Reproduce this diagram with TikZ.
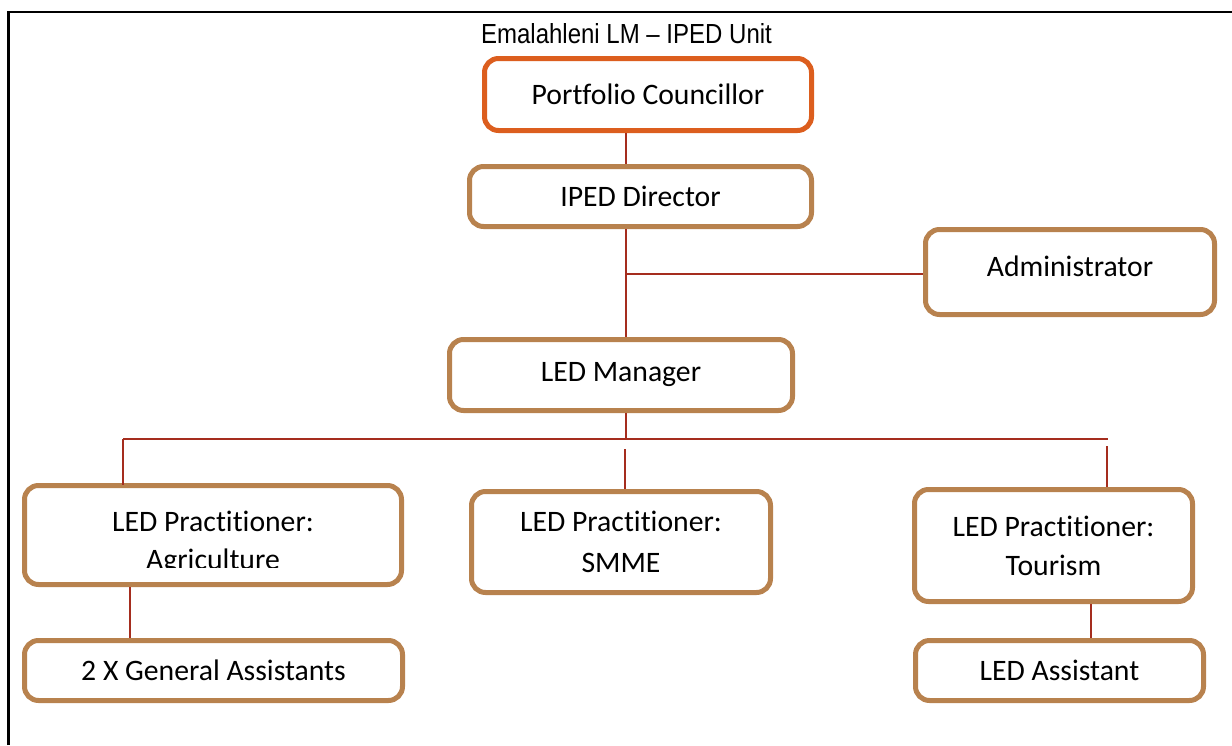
\documentclass[tikz,border=0pt]{standalone}
\usepackage{fontspec}
\setmainfont{Carlito}[RawFeature={-liga;-clig;-calt;-dlig}]
\newfontfamily\titlefont{Liberation Sans}
\definecolor{orangeline}{RGB}{220,94,30}
\definecolor{tanline}{RGB}{184,130,78}
\definecolor{connline}{RGB}{165,45,30}
\begin{document}
\begin{tikzpicture}[x=1pt,y=-1pt,
  box/.style={draw=tanline, line width=5pt, rounded corners=14pt, fill=white,
    inner sep=0pt, align=center, font=\fontsize{29.7}{39}\selectfont},
  topbox/.style={box, draw=orangeline},
  conn/.style={draw=connline, line width=2pt},
  frame/.style={draw=black, line width=2.7pt}]
\useasboundingbox (0,0) rectangle (1232,745);
% frame
\coordinate (fTL) at (8.5,12);
\coordinate (fTR) at (1232,12);
\coordinate (fBL) at (8.5,745);
\draw[frame] (fBL) -- (fTL) -- (fTR);
% title
\node[anchor=base, font=\titlefont\fontsize{24}{28}\selectfont] (title) at (626.5,43) {\scalebox{1}[1.15]{Emalahleni LM – IPED Unit}};
% boxes
\node[topbox, minimum width=327pt, minimum height=72pt] (pc) at (648,94.5) {\raisebox{1.5pt}{Portfolio Councillor}};
\node[box, minimum width=342pt, minimum height=60pt] (dir) at (640.5,196.5) {IPED Director};
\node[box, minimum width=289pt, minimum height=85pt] (adm) at (1070,272) {\raisebox{11pt}{Administrator}};
\node[box, minimum width=343pt, minimum height=71pt] (mgr) at (621,375) {LED Manager};
\node[box, minimum width=377pt, minimum height=99pt] (agri) at (213,535) {};
\begin{scope}
  \clip (24,480) rectangle (402,567);
  \node[align=center, inner sep=0pt, font=\fontsize{29.7}{38}\selectfont] (agrit) at (213,543) {LED Practitioner:\\Agriculture};
\end{scope}
\node[box, minimum width=299pt, minimum height=101pt] (smme) at (621,542) {LED Practitioner:\\[2pt]SMME};
\node[box, minimum width=278pt, minimum height=112pt] (tour) at (1053.5,545.5) {\raisebox{0pt}{LED Practitioner:}\\Tourism};
\node[box, minimum width=378pt, minimum height=60pt] (ga) at (213.5,670.5) {2 X General Assistants};
\node[box, minimum width=288pt, minimum height=60pt] (la) at (1059.5,670.5) {LED Assistant};
% connector coordinates
\coordinate (tx) at (626,0);
\coordinate (jadm) at (626,274);
\coordinate (busM) at (626,439);
\coordinate (busL) at (123,439);
\coordinate (busR) at (1108,439);
\coordinate (smTop) at (625,449);
\coordinate (tTop) at (1107,446);
\coordinate (gx) at (130,0);
\coordinate (lx) at (1091,0);
% connectors
\draw[conn] (pc.south -| tx) -- (dir.north -| tx);
\draw[conn] (dir.south -| tx) -- (mgr.north -| tx);
\draw[conn] (jadm) -- (jadm -| adm.west);
\draw[conn] (mgr.south -| tx) -- (busM);
\draw[conn] (busL) -- (busR);
\draw[conn] (busL) -- ([yshift=-2pt]agri.north -| busL);
\draw[conn] (smTop) -- (smme.north -| smTop);
\draw[conn] (tTop) -- (tour.north -| tTop);
\draw[conn] (agri.south -| gx) -- (ga.north -| gx);
\draw[conn] (tour.south -| lx) -- (la.north -| lx);
\end{tikzpicture}
\end{document}
